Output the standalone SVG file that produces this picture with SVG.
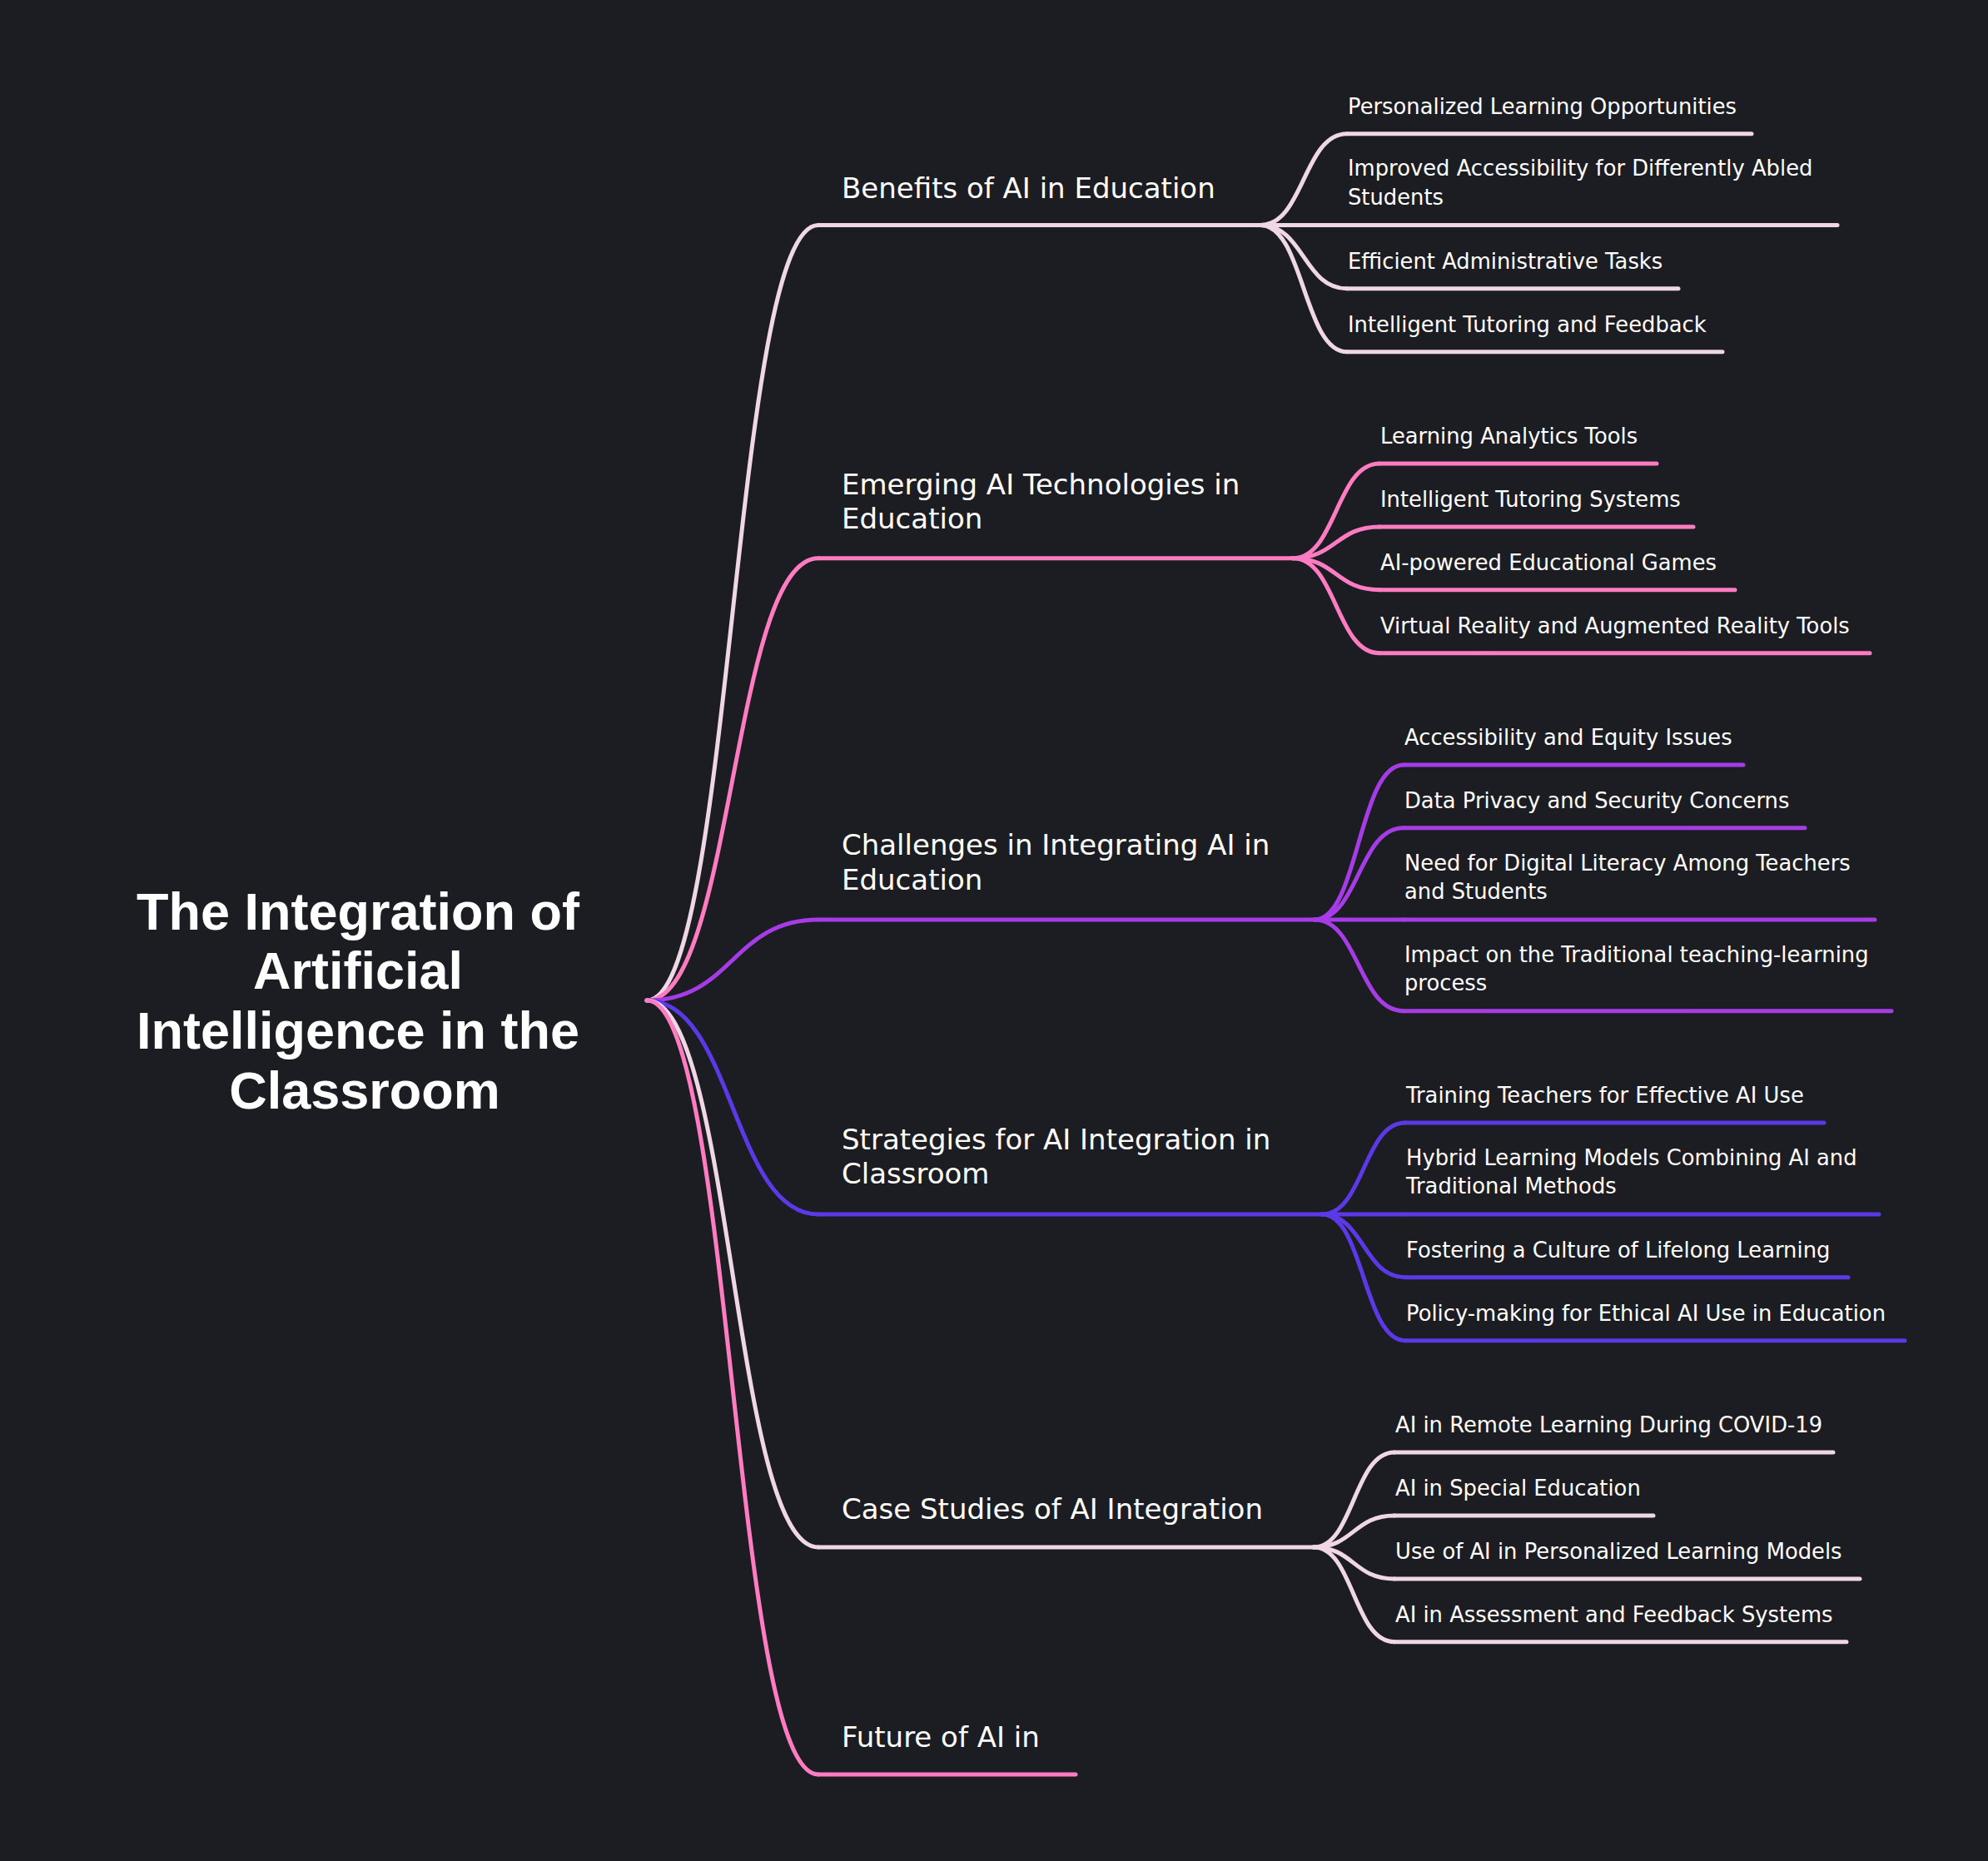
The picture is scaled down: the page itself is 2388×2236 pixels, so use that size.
<svg xmlns="http://www.w3.org/2000/svg" width="2388" height="2236" viewBox="0 0 2388 2236">
<style>
.bg{fill:#1c1d22}
.root{font-family:"Liberation Sans",Arial,sans-serif;font-weight:700;font-size:63px;fill:#ffffff;text-anchor:middle}
.l1{font-family:"DejaVu Sans","Liberation Sans",sans-serif;font-size:34px;fill:#ffffff}
.l2{font-family:"DejaVu Sans","Liberation Sans",sans-serif;font-size:25.8px;fill:#ffffff}
.lk{fill:none;stroke-width:5;stroke-linecap:round}
.c1{stroke:#efd7e5}
.c2{stroke:#ff7bc2}
.c3{stroke:#a63ce6}
.c4{stroke:#5c39e6}
</style>
<rect class="bg" x="0" y="0" width="2388" height="2236"/>
<g id="connectors">
<path class="lk c1" d="M777 1202 C880 1202 880 270.5 983 270.5"/>
<path class="lk c2" d="M777 1202 C880 1202 880 670.7 983 670.7"/>
<path class="lk c3" d="M777 1202 C880 1202 880 1105 983 1105"/>
<path class="lk c4" d="M777 1202 C880 1202 880 1459 983 1459"/>
<path class="lk c1" d="M777 1202 C880 1202 880 1859 983 1859"/>
<path class="lk c2" d="M777 1202 C880 1202 880 2132 983 2132"/>
<path class="lk c1" d="M1514 270.5 C1566 270.5 1566 160.7 1618 160.7"/>
<path class="lk c1" d="M1514 270.5 L1618 270.5"/>
<path class="lk c1" d="M1514 270.5 C1566 270.5 1566 346.7 1618 346.7"/>
<path class="lk c1" d="M1514 270.5 C1566 270.5 1566 422.7 1618 422.7"/>
<path class="lk c2" d="M1553 670.7 C1605 670.7 1605 557 1657 557"/>
<path class="lk c2" d="M1553 670.7 C1605 670.7 1605 633 1657 633"/>
<path class="lk c2" d="M1553 670.7 C1605 670.7 1605 708.7 1657 708.7"/>
<path class="lk c2" d="M1553 670.7 C1605 670.7 1605 784.7 1657 784.7"/>
<path class="lk c3" d="M1579 1105 C1632 1105 1632 919 1686 919"/>
<path class="lk c3" d="M1579 1105 C1632 1105 1632 994.7 1686 994.7"/>
<path class="lk c3" d="M1579 1105 L1686 1105"/>
<path class="lk c3" d="M1579 1105 C1632 1105 1632 1214.7 1686 1214.7"/>
<path class="lk c4" d="M1588 1459 C1638 1459 1638 1349 1688 1349"/>
<path class="lk c4" d="M1588 1459 L1688 1459"/>
<path class="lk c4" d="M1588 1459 C1638 1459 1638 1534.7 1688 1534.7"/>
<path class="lk c4" d="M1588 1459 C1638 1459 1638 1610.7 1688 1610.7"/>
<path class="lk c1" d="M1578 1859 C1626 1859 1626 1745 1675 1745"/>
<path class="lk c1" d="M1578 1859 C1626 1859 1626 1821 1675 1821"/>
<path class="lk c1" d="M1578 1859 C1626 1859 1626 1897 1675 1897"/>
<path class="lk c1" d="M1578 1859 C1626 1859 1626 1972.7 1675 1972.7"/>
</g>
<g id="root">
<text class="root" x="430" y="1117">The Integration of</text>
<text class="root" x="430" y="1188">Artificial</text>
<text class="root" x="430" y="1260">Intelligence in the</text>
<text class="root" x="438" y="1332">Classroom</text>
</g>
<g id="n-benefits">
<line class="lk c1" x1="983" y1="270.5" x2="1514" y2="270.5"/>
<text class="l1" x="1011" y="237.5">Benefits of AI in Education</text>
</g>
<g id="n-b1"><line class="lk c1" x1="1618" y1="160.7" x2="2104" y2="160.7"/><text class="l2" x="1619" y="137">Personalized Learning Opportunities</text></g>
<g id="n-b2"><line class="lk c1" x1="1618" y1="270.5" x2="2207" y2="270.5"/><text class="l2" x="1619" y="211">Improved Accessibility for Differently Abled</text><text class="l2" x="1619" y="245.5">Students</text></g>
<g id="n-b3"><line class="lk c1" x1="1618" y1="346.7" x2="2016" y2="346.7"/><text class="l2" x="1619" y="323">Efficient Administrative Tasks</text></g>
<g id="n-b4"><line class="lk c1" x1="1618" y1="422.7" x2="2069" y2="422.7"/><text class="l2" x="1619" y="399">Intelligent Tutoring and Feedback</text></g>

<g id="n-emerging">
<line class="lk c2" x1="983" y1="670.7" x2="1553" y2="670.7"/>
<text class="l1" x="1011" y="593.5">Emerging AI Technologies in</text>
<text class="l1" x="1011" y="635">Education</text>
</g>
<g id="n-e1"><line class="lk c2" x1="1657" y1="557" x2="1990" y2="557"/><text class="l2" x="1658" y="533">Learning Analytics Tools</text></g>
<g id="n-e2"><line class="lk c2" x1="1657" y1="633" x2="2034" y2="633"/><text class="l2" x="1658" y="609">Intelligent Tutoring Systems</text></g>
<g id="n-e3"><line class="lk c2" x1="1657" y1="708.7" x2="2084" y2="708.7"/><text class="l2" x="1658" y="685">AI-powered Educational Games</text></g>
<g id="n-e4"><line class="lk c2" x1="1657" y1="784.7" x2="2246" y2="784.7"/><text class="l2" x="1658" y="761">Virtual Reality and Augmented Reality Tools</text></g>

<g id="n-challenges">
<line class="lk c3" x1="983" y1="1105" x2="1579" y2="1105"/>
<text class="l1" x="1011" y="1027">Challenges in Integrating AI in</text>
<text class="l1" x="1011" y="1068.5">Education</text>
</g>
<g id="n-c1"><line class="lk c3" x1="1686" y1="919" x2="2094" y2="919"/><text class="l2" x="1687" y="895">Accessibility and Equity Issues</text></g>
<g id="n-c2"><line class="lk c3" x1="1686" y1="994.7" x2="2168" y2="994.7"/><text class="l2" x="1687" y="971">Data Privacy and Security Concerns</text></g>
<g id="n-c3"><line class="lk c3" x1="1686" y1="1105" x2="2252" y2="1105"/><text class="l2" x="1687" y="1046">Need for Digital Literacy Among Teachers</text><text class="l2" x="1687" y="1080">and Students</text></g>
<g id="n-c4"><line class="lk c3" x1="1686" y1="1214.7" x2="2272" y2="1214.7"/><text class="l2" x="1687" y="1156">Impact on the Traditional teaching-learning</text><text class="l2" x="1687" y="1190">process</text></g>

<g id="n-strategies">
<line class="lk c4" x1="983" y1="1459" x2="1588" y2="1459"/>
<text class="l1" x="1011" y="1380.5">Strategies for AI Integration in</text>
<text class="l1" x="1011" y="1422">Classroom</text>
</g>
<g id="n-s1"><line class="lk c4" x1="1688" y1="1349" x2="2191" y2="1349"/><text class="l2" x="1689" y="1325">Training Teachers for Effective AI Use</text></g>
<g id="n-s2"><line class="lk c4" x1="1688" y1="1459" x2="2257" y2="1459"/><text class="l2" x="1689" y="1400">Hybrid Learning Models Combining AI and</text><text class="l2" x="1689" y="1434">Traditional Methods</text></g>
<g id="n-s3"><line class="lk c4" x1="1688" y1="1534.7" x2="2220" y2="1534.7"/><text class="l2" x="1689" y="1511">Fostering a Culture of Lifelong Learning</text></g>
<g id="n-s4"><line class="lk c4" x1="1688" y1="1610.7" x2="2288" y2="1610.7"/><text class="l2" x="1689" y="1587">Policy-making for Ethical AI Use in Education</text></g>

<g id="n-case">
<line class="lk c1" x1="983" y1="1859" x2="1578" y2="1859"/>
<text class="l1" x="1011" y="1825">Case Studies of AI Integration</text>
</g>
<g id="n-k1"><line class="lk c1" x1="1675" y1="1745" x2="2202" y2="1745"/><text class="l2" x="1676" y="1721">AI in Remote Learning During COVID-19</text></g>
<g id="n-k2"><line class="lk c1" x1="1675" y1="1821" x2="1986" y2="1821"/><text class="l2" x="1676" y="1797">AI in Special Education</text></g>
<g id="n-k3"><line class="lk c1" x1="1675" y1="1897" x2="2234" y2="1897"/><text class="l2" x="1676" y="1873">Use of AI in Personalized Learning Models</text></g>
<g id="n-k4"><line class="lk c1" x1="1675" y1="1972.7" x2="2218" y2="1972.7"/><text class="l2" x="1676" y="1949">AI in Assessment and Feedback Systems</text></g>

<g id="n-future">
<line class="lk c2" x1="983" y1="2132" x2="1292" y2="2132"/>
<text class="l1" x="1011" y="2099">Future of AI in</text>
</g>
</svg>
